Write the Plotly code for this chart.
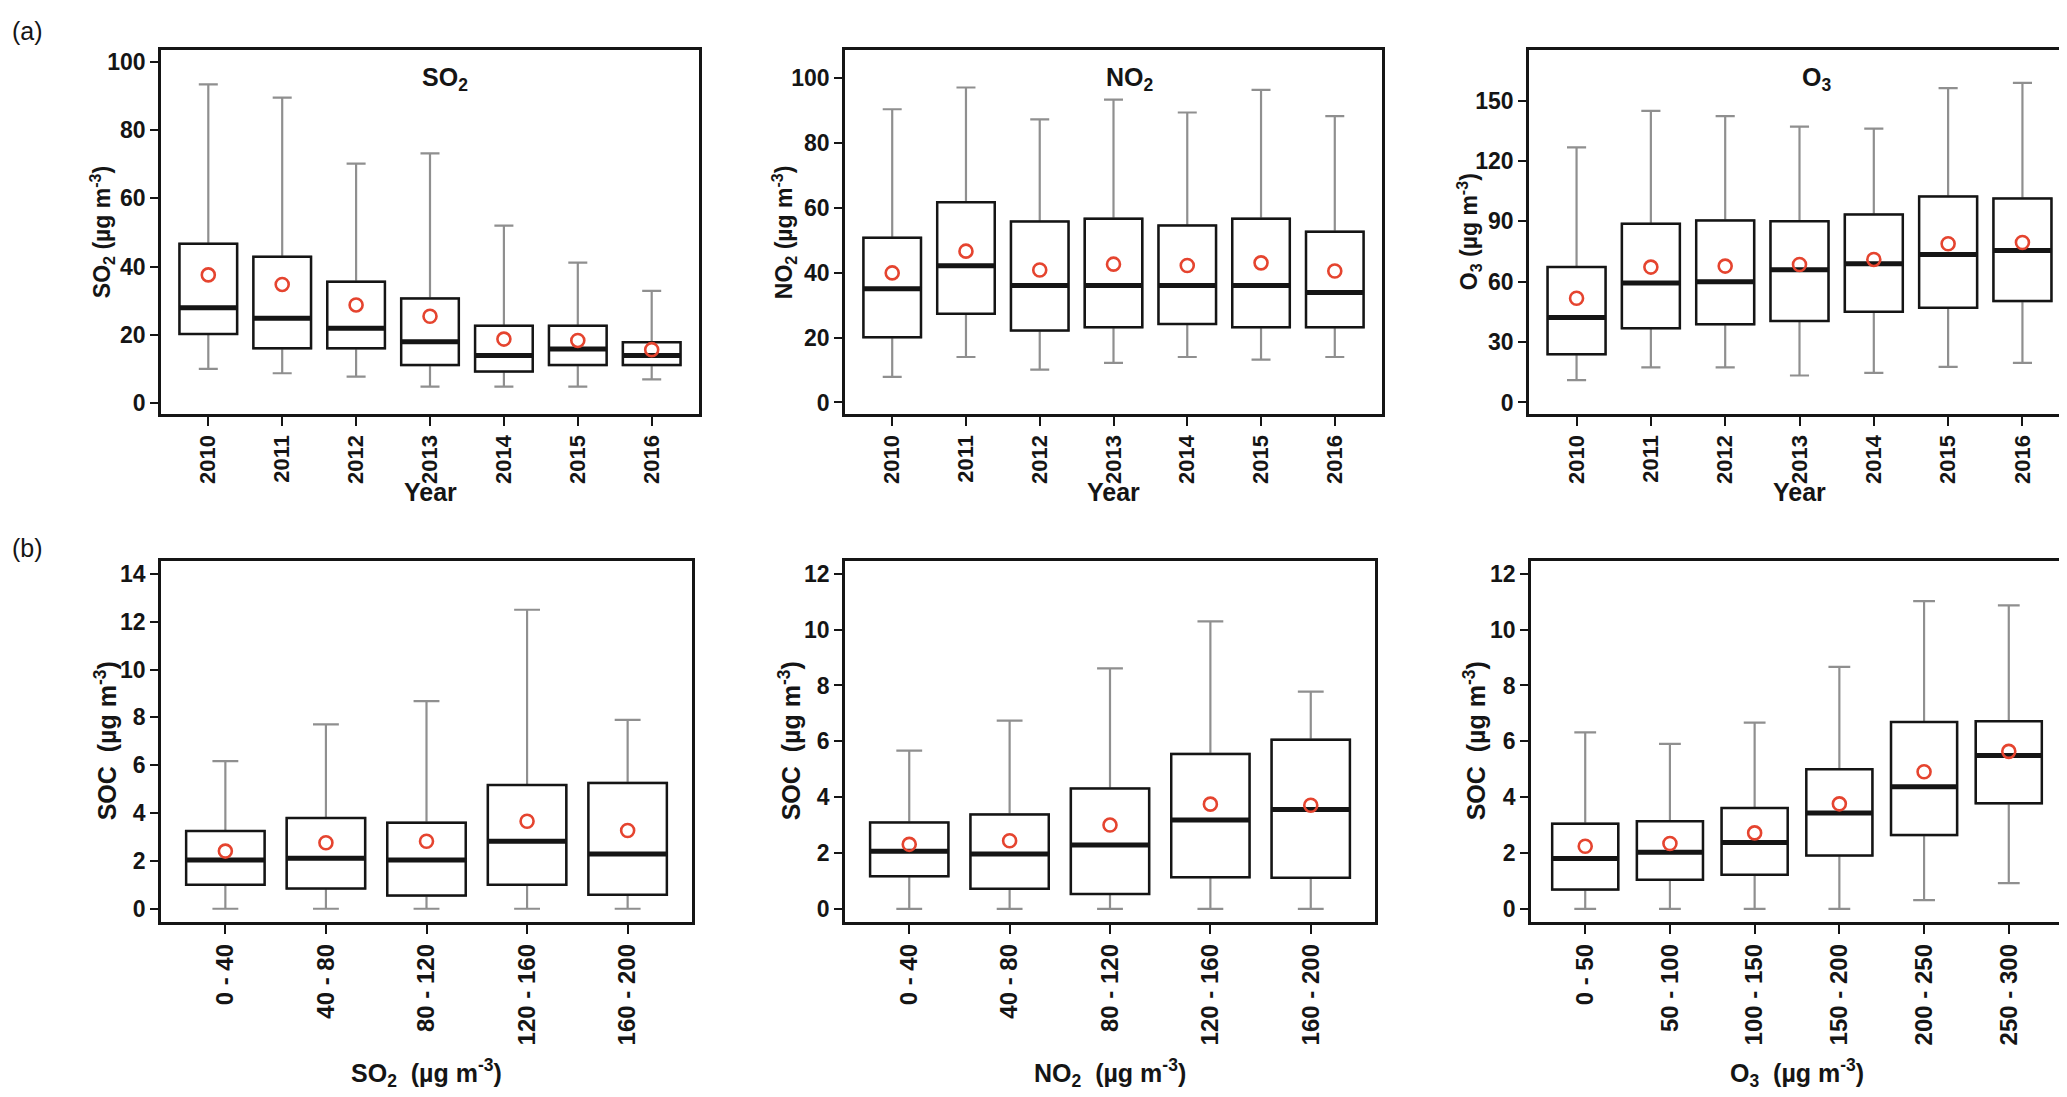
import plotly.graph_objects as go

years = ["2010", "2011", "2012", "2013", "2014", "2015", "2016"]

so2_lo = [10.1, 8.8, 7.8, 4.9, 4.9, 4.9, 7.0]
so2_q1 = [20.3, 16.1, 16.1, 11.2, 9.3, 11.2, 11.2]
so2_med = [28.0, 24.9, 22.0, 18.0, 14.0, 15.9, 14.0]
so2_q3 = [46.7, 42.9, 35.6, 30.7, 22.7, 22.7, 17.9]
so2_hi = [93.4, 89.5, 70.2, 73.2, 52.0, 41.2, 32.9]
so2_mean = [37.6, 34.8, 28.8, 25.5, 18.8, 18.4, 15.7]

no2_lo = [7.9, 14.0, 10.1, 12.2, 14.0, 13.2, 14.0]
no2_q1 = [20.1, 27.3, 22.2, 23.2, 24.2, 23.2, 23.2]
no2_med = [35.0, 42.1, 36.0, 36.0, 36.0, 36.0, 33.9]
no2_q3 = [50.7, 61.7, 55.7, 56.6, 54.5, 56.6, 52.6]
no2_hi = [90.3, 97.0, 87.2, 93.3, 89.3, 96.3, 88.2]
no2_mean = [39.9, 46.6, 40.8, 42.6, 42.2, 43.0, 40.5]

o3_lo = [11.1, 17.4, 17.4, 13.4, 14.7, 17.7, 19.7]
o3_q1 = [24.0, 36.9, 38.9, 40.5, 45.1, 47.1, 50.4]
o3_med = [42.2, 59.4, 60.0, 66.0, 69.0, 73.6, 75.6]
o3_q3 = [67.3, 88.8, 90.5, 90.1, 93.4, 102.4, 101.4]
o3_hi = [126.8, 145.0, 142.4, 137.1, 136.1, 156.3, 158.9]
o3_mean = [51.8, 67.3, 67.8, 68.6, 71.1, 78.9, 79.5]

so2_bins = ["0 - 40", "40 - 80", "80 - 120", "120 - 160", "160 - 200"]
soc_so2_lo = [0, 0, 0, 0, 0]
soc_so2_q1 = [1.0, 0.85, 0.55, 1.0, 0.58]
soc_so2_med = [2.04, 2.11, 2.04, 2.82, 2.29]
soc_so2_q3 = [3.25, 3.79, 3.6, 5.17, 5.26]
soc_so2_hi = [6.17, 7.71, 8.68, 12.5, 7.9]
soc_so2_mean = [2.41, 2.76, 2.82, 3.66, 3.27]

no2_bins = ["0 - 40", "40 - 80", "80 - 120", "120 - 160", "160 - 200"]
soc_no2_lo = [0, 0, 0, 0, 0]
soc_no2_q1 = [1.17, 0.72, 0.53, 1.13, 1.11]
soc_no2_med = [2.06, 1.96, 2.29, 3.18, 3.56]
soc_no2_q3 = [3.09, 3.38, 4.31, 5.55, 6.06]
soc_no2_hi = [5.67, 6.74, 8.61, 10.3, 7.78]
soc_no2_mean = [2.31, 2.44, 3.0, 3.75, 3.71]

o3_bins = ["0 - 50", "50 - 100", "100 - 150", "150 - 200", "200 - 250", "250 - 300"]
soc_o3_lo = [0, 0, 0, 0, 0.31, 0.92]
soc_o3_q1 = [0.69, 1.04, 1.22, 1.91, 2.64, 3.78]
soc_o3_med = [1.8, 2.03, 2.38, 3.43, 4.37, 5.49]
soc_o3_q3 = [3.05, 3.14, 3.61, 5.0, 6.69, 6.72]
soc_o3_hi = [6.32, 5.91, 6.67, 8.67, 11.02, 10.87]
soc_o3_mean = [2.24, 2.34, 2.72, 3.76, 4.91, 5.64]

W, H = 2067, 1097
FONT = "Liberation Sans, Arial, sans-serif"
GRAY = "#8f8f8f"
BLACK = "#151515"
RED = "#e5442f"

fig = go.Figure()


def px_x(a, b):
    return [a / W, b / W]


def px_y(top, bottom):
    return [1 - bottom / H, 1 - top / H]


def add_panel(n, cats, lo, q1, med, q3, hi, mean, xdom, ydom, yrange, dtick, xsize):
    xa = "x" if n == 1 else "x%d" % n
    ya = "y" if n == 1 else "y%d" % n
    common = dict(x=cats, xaxis=xa, yaxis=ya, orientation="v", width=0.78,
                  boxpoints=False, showlegend=False, hoverinfo="skip")
    # whiskers (gray)
    fig.add_trace(go.Box(q1=q1, median=med, q3=q3, lowerfence=lo, upperfence=hi,
                         line=dict(color=GRAY, width=2.2), fillcolor="white",
                         whiskerwidth=0.33, **common))
    # box (black)
    fig.add_trace(go.Box(q1=q1, median=med, q3=q3, lowerfence=q1, upperfence=q3,
                         line=dict(color=BLACK, width=2.5), fillcolor="white",
                         whiskerwidth=0, **common))
    # thick median
    fig.add_trace(go.Box(q1=med, median=med, q3=med, lowerfence=med, upperfence=med,
                         line=dict(color=BLACK, width=5), fillcolor="rgba(0,0,0,0)",
                         whiskerwidth=0, **common))
    fig.add_trace(go.Scatter(x=cats, y=mean, xaxis=xa, yaxis=ya, mode="markers",
                             marker=dict(symbol="circle-open", size=13, color=RED,
                                         line=dict(width=2.6, color=RED)),
                             showlegend=False, hoverinfo="skip"))
    k = len(cats)
    xkey = "xaxis" if n == 1 else "xaxis%d" % n
    ykey = "yaxis" if n == 1 else "yaxis%d" % n
    fig.update_layout(**{
        xkey: dict(domain=xdom, anchor=ya, type="category", range=[-0.64, k - 1 + 0.64],
                   tickangle=-90, ticks="outside", ticklen=10, tickwidth=2.2, tickcolor=BLACK,
                   showline=True, mirror=True, linewidth=2.5, linecolor=BLACK,
                   showgrid=False, zeroline=False,
                   tickfont=dict(family=FONT, size=xsize, color=BLACK, weight="bold")),
        ykey: dict(domain=ydom, anchor=xa, range=yrange, dtick=dtick,
                   ticks="outside", ticklen=8, tickwidth=2.2, tickcolor=BLACK,
                   showline=True, mirror=True, linewidth=2.5, linecolor=BLACK,
                   showgrid=False, zeroline=False,
                   tickfont=dict(family=FONT, size=23, color=BLACK, weight="bold")),
    })


top = px_y(41, 406)
bot = px_y(554, 916)
add_panel(1, years, so2_lo, so2_q1, so2_med, so2_q3, so2_hi, so2_mean,
          px_x(153, 691), top, [-3, 103.5], 20, 22)
add_panel(2, years, no2_lo, no2_q1, no2_med, no2_q3, no2_hi, no2_mean,
          px_x(837, 1374), top, [-3.4, 108.6], 20, 22)
add_panel(3, years, o3_lo, o3_q1, o3_med, o3_q3, o3_hi, o3_mean,
          px_x(1521, 2062), top, [-5.5, 175.3], 30, 22)
add_panel(4, so2_bins, soc_so2_lo, soc_so2_q1, soc_so2_med, soc_so2_q3, soc_so2_hi, soc_so2_mean,
          px_x(153, 684), bot, [-0.54, 14.54], 2, 24)
add_panel(5, no2_bins, soc_no2_lo, soc_no2_q1, soc_no2_med, soc_no2_q3, soc_no2_hi, soc_no2_mean,
          px_x(837, 1367), bot, [-0.46, 12.46], 2, 24)
add_panel(6, o3_bins, soc_o3_lo, soc_o3_q1, soc_o3_med, soc_o3_q3, soc_o3_hi, soc_o3_mean,
          px_x(1523, 2055), bot, [-0.46, 12.46], 2, 24)

bold = dict(family=FONT, size=23, color=BLACK, weight="bold")
big = dict(family=FONT, size=25, color=BLACK, weight="bold")
notes = []


def note(text, xpx, ypx, angle=0, font=bold, xanchor="center"):
    notes.append(dict(text=text, x=xpx / W, y=1 - ypx / H, xref="paper", yref="paper",
                      showarrow=False, textangle=angle, font=font,
                      xanchor=xanchor, yanchor="middle"))


unit = " (µg m<sup>-3</sup>)"
# panel titles
note("SO<sub>2</sub>", 437, 70, font=big)
note("NO<sub>2</sub>", 1122, 70, font=big)
note("O<sub>3</sub>", 1808, 70, font=big)
# y titles top
note("SO<sub>2</sub>" + unit, 94, 224, -90)
note("NO<sub>2</sub>" + unit, 776, 224, -90)
note("O<sub>3</sub>" + unit, 1461, 224, -90)
# x titles top
note("Year", 422, 485, font=big)
note("Year", 1105, 485, font=big)
note("Year", 1791, 485, font=big)
# y titles bottom
note("SOC " + unit, 98, 735, -90, font=big)
note("SOC " + unit, 782, 735, -90, font=big)
note("SOC " + unit, 1467, 735, -90, font=big)
# x titles bottom
note("SO<sub>2</sub> " + unit, 418, 1068, font=big)
note("NO<sub>2</sub> " + unit, 1102, 1068, font=big)
note("O<sub>3</sub> " + unit, 1789, 1068, font=big)
# panel labels
plain = dict(family=FONT, size=25, color=BLACK)
note("(a)", 2, 22, font=plain, xanchor="left")
note("(b)", 2, 541, font=plain, xanchor="left")

fig.update_layout(width=W, height=H, margin=dict(l=0, r=0, t=0, b=0),
                  paper_bgcolor="white", plot_bgcolor="white",
                  boxmode="overlay", annotations=notes)

fig.write_html("out.html")
